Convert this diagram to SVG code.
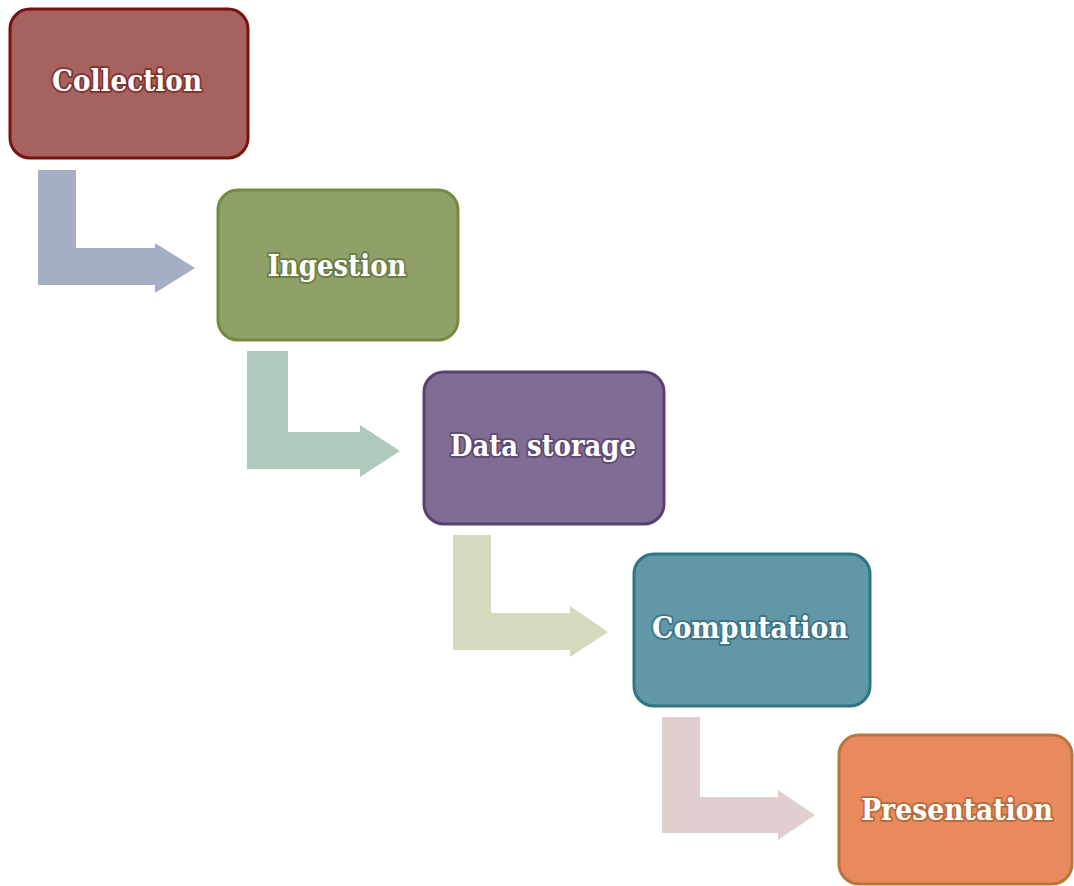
<svg xmlns="http://www.w3.org/2000/svg" width="1074" height="886" viewBox="0 0 1074 886">
<style>
.box{stroke-width:3}
.lbl{font-family:"DejaVu Serif","Liberation Serif",serif;font-weight:bold;font-size:29px;fill:#ffffff;text-anchor:middle;paint-order:stroke;stroke-width:4;stroke-linejoin:round;stroke-opacity:0.6}
</style>
<rect width="1074" height="886" fill="#ffffff"/>
<g id="connectors">
<path d="M38,170 H76 V248 H155 V243 L195,268 L155,293 V285 H38 Z" fill="#A5AEC3"/>
<path d="M247,351 H288 V432 H360 V425 L400,451 L360,477 V469 H247 Z" fill="#AFCABD"/>
<path d="M453,535 H491 V613 H570 V606 L608,632 L570,657 V650 H453 Z" fill="#D3DABD"/>
<path d="M662,717 H700 V797 H778 V790 L815,815 L778,840 V833 H662 Z" fill="#E1CFCF"/>
</g>
<g id="collection">
<rect class="box" x="10" y="9" width="238" height="149" rx="20" fill="#A5625F" stroke="#7B1010"/>
<text class="lbl" x="127" y="91" textLength="150" lengthAdjust="spacingAndGlyphs" stroke="#6B1515">Collection</text>
</g>
<g id="ingestion">
<rect class="box" x="218" y="190" width="240" height="150" rx="20" fill="#8FA068" stroke="#76893F"/>
<text class="lbl" x="337" y="276" textLength="139" lengthAdjust="spacingAndGlyphs" stroke="#56672E">Ingestion</text>
</g>
<g id="data-storage">
<rect class="box" x="424" y="372" width="240" height="152" rx="20" fill="#7F6D93" stroke="#5B3F72"/>
<text class="lbl" x="543" y="456" textLength="186" lengthAdjust="spacingAndGlyphs" stroke="#4A3460">Data storage</text>
</g>
<g id="computation">
<rect class="box" x="634" y="554" width="236" height="152" rx="20" fill="#6098A8" stroke="#2E7482"/>
<text class="lbl" x="750" y="638" textLength="196" lengthAdjust="spacingAndGlyphs" stroke="#2A5F6B">Computation</text>
</g>
<g id="presentation">
<rect class="box" x="839" y="735" width="233" height="149" rx="20" fill="#E88A5D" stroke="#B8763A"/>
<text class="lbl" x="957" y="820" textLength="192" lengthAdjust="spacingAndGlyphs" stroke="#9A5A2A">Presentation</text>
</g>
</svg>
